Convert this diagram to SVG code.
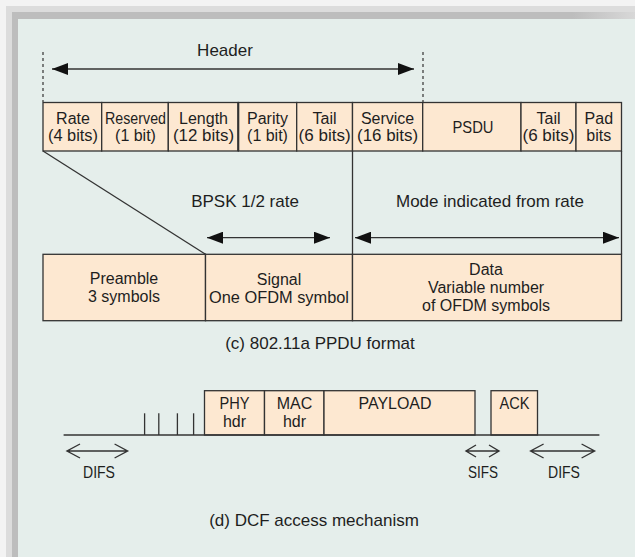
<svg xmlns="http://www.w3.org/2000/svg" width="635" height="557" viewBox="0 0 635 557">
<style>
.t{font-family:"Liberation Sans",Arial,sans-serif;font-size:17px;fill:#1e1e1e;text-anchor:middle}
.m{font-size:16px}
.cell{fill:#fde8d1;stroke:#333;stroke-width:1.3}
.ln{stroke:#333;stroke-width:1.3;fill:none}
.dash{stroke:#333;stroke-width:1.2;stroke-dasharray:3 3;fill:none}
.chev{stroke:#333;stroke-width:1.4;fill:none}
</style>
<defs>
<marker id="ah" viewBox="0 0 16 12" refX="16" refY="6" markerWidth="16" markerHeight="12" markerUnits="userSpaceOnUse" orient="auto-start-reverse">
<path d="M0,0 L16,6 L0,12 Z" fill="#111"/>
</marker>
<linearGradient id="fadeTop" x1="0" y1="0" x2="1" y2="0">
<stop offset="0" stop-color="#bdbdbd"/>
<stop offset="0.9" stop-color="#bdbdbd"/>
<stop offset="1" stop-color="#d8d8d8"/>
</linearGradient>
</defs>
<!-- frame -->
<rect x="0" y="0" width="635" height="557" fill="#f3f3f3"/>
<rect x="6" y="6" width="629" height="551" fill="#dcdcdc"/>
<rect x="12" y="12" width="623" height="545" fill="url(#fadeTop)"/>
<rect x="18" y="19" width="617" height="538" fill="#e5eeeb"/>

<!-- top row cells -->
<g id="rate"><rect class="cell" x="43" y="102.5" width="58.7" height="48.5"/><text class="t m" x="73" y="124">Rate</text><text class="t m" x="73" y="141" textLength="50" lengthAdjust="spacingAndGlyphs">(4 bits)</text></g>
<g id="reserved"><rect class="cell" x="101.7" y="102.5" width="66.6" height="48.5"/><text class="t m" x="135.5" y="124" textLength="61" lengthAdjust="spacingAndGlyphs">Reserved</text><text class="t m" x="135.5" y="141">(1 bit)</text></g>
<g id="length"><rect class="cell" x="168.3" y="102.5" width="70" height="48.5"/><text class="t m" x="203.5" y="124">Length</text><text class="t m" x="203.5" y="141" textLength="61" lengthAdjust="spacingAndGlyphs">(12 bits)</text></g>
<g id="parity"><rect class="cell" x="238.3" y="102.5" width="58.4" height="48.5"/><text class="t m" x="267.5" y="124">Parity</text><text class="t m" x="267.5" y="141">(1 bit)</text></g>
<g id="tail1"><rect class="cell" x="296.7" y="102.5" width="55.8" height="48.5"/><text class="t m" x="324.6" y="124">Tail</text><text class="t m" x="324.6" y="141" textLength="52" lengthAdjust="spacingAndGlyphs">(6 bits)</text></g>
<g id="service"><rect class="cell" x="352.5" y="102.5" width="70.2" height="48.5"/><text class="t m" x="387.6" y="124">Service</text><text class="t m" x="387.6" y="141" textLength="61" lengthAdjust="spacingAndGlyphs">(16 bits)</text></g>
<g id="psdu"><rect class="cell" x="422.7" y="102.5" width="98.3" height="48.5"/><text class="t" x="473" y="133" textLength="41" lengthAdjust="spacingAndGlyphs">PSDU</text></g>
<g id="tail2"><rect class="cell" x="521" y="102.5" width="55" height="48.5"/><text class="t m" x="548.5" y="124">Tail</text><text class="t m" x="548.5" y="141" textLength="52" lengthAdjust="spacingAndGlyphs">(6 bits)</text></g>
<g id="pad"><rect class="cell" x="576" y="102.5" width="45.5" height="48.5"/><text class="t m" x="598.8" y="124">Pad</text><text class="t m" x="598.8" y="141">bits</text></g>

<!-- bottom row -->
<g id="preamble"><rect class="cell" x="43" y="254.3" width="162.5" height="66.4"/><text class="t m" x="124" y="284">Preamble</text><text class="t m" x="124" y="302">3 symbols</text></g>
<g id="signal"><rect class="cell" x="205.5" y="254.3" width="147" height="66.4"/><text class="t m" x="279" y="285">Signal</text><text class="t m" x="279" y="303" textLength="140" lengthAdjust="spacingAndGlyphs">One OFDM symbol</text></g>
<g id="data"><rect class="cell" x="352.5" y="254.3" width="269" height="66.4"/><text class="t m" x="486" y="275">Data</text><text class="t m" x="486" y="293">Variable number</text><text class="t m" x="486" y="311">of OFDM symbols</text></g>

<!-- labels -->
<g id="labels-c">
<text class="t" x="225" y="56">Header</text>
<text class="t" x="245" y="207">BPSK 1/2 rate</text>
<text class="t" x="490" y="207">Mode indicated from rate</text>
<text class="t" x="320" y="349">(c) 802.11a PPDU format</text>
</g>

<!-- DCF boxes -->
<g id="phy"><rect class="cell" x="204.5" y="390.7" width="60" height="44.3"/><text class="t m" x="234.5" y="409" textLength="30" lengthAdjust="spacingAndGlyphs">PHY</text><text class="t m" x="234.5" y="427">hdr</text></g>
<g id="mac"><rect class="cell" x="264.5" y="390.7" width="59.5" height="44.3"/><text class="t m" x="294.5" y="409">MAC</text><text class="t m" x="294.5" y="427">hdr</text></g>
<g id="payload"><rect class="cell" x="324" y="390.7" width="151" height="44.3"/><text class="t" x="395" y="409" textLength="73" lengthAdjust="spacingAndGlyphs">PAYLOAD</text></g>
<g id="ack"><rect class="cell" x="491" y="390.7" width="46.5" height="44.3"/><text class="t" x="514.5" y="409" textLength="30" lengthAdjust="spacingAndGlyphs">ACK</text></g>
<g id="labels-d">
<text class="t" x="99" y="478" textLength="32" lengthAdjust="spacingAndGlyphs">DIFS</text>
<text class="t" x="483" y="478" textLength="30" lengthAdjust="spacingAndGlyphs">SIFS</text>
<text class="t" x="564" y="478" textLength="32" lengthAdjust="spacingAndGlyphs">DIFS</text>
<text class="t" x="314" y="526">(d) DCF access mechanism</text>
</g>

<!-- connectors -->
<g id="connectors">
<line class="dash" x1="43" y1="52" x2="43" y2="102"/>
<line class="dash" x1="423" y1="52" x2="423" y2="102"/>
<line class="ln" x1="52" y1="69" x2="414" y2="69" marker-start="url(#ah)" marker-end="url(#ah)"/>
<line x1="238.3" y1="102.5" x2="238.3" y2="151" stroke="#333" stroke-width="2"/>
<line class="ln" x1="43" y1="151" x2="205.5" y2="254.3"/>
<line class="ln" x1="352.5" y1="151" x2="352.5" y2="254.3"/>
<line class="ln" x1="621.5" y1="151" x2="621.5" y2="254.3"/>
<line class="ln" stroke-width="1.5" x1="207" y1="237.7" x2="330" y2="237.7" marker-start="url(#ah)" marker-end="url(#ah)"/>
<line class="ln" stroke-width="1.5" x1="355" y1="237.7" x2="619" y2="237.7" marker-start="url(#ah)" marker-end="url(#ah)"/>
<!-- timeline -->
<line class="ln" x1="63.6" y1="435" x2="599.4" y2="435"/>
<line class="ln" x1="144.6" y1="413.3" x2="144.6" y2="435"/>
<line class="ln" x1="158.8" y1="413.3" x2="158.8" y2="435"/>
<line class="ln" x1="177.4" y1="413.3" x2="177.4" y2="435"/>
<line class="ln" x1="193.6" y1="413.3" x2="193.6" y2="435"/>
<!-- interval arrows -->
<path class="chev" d="M67,451 H127.6 M80,444 L67,451 L80,458 M114.6,444 L127.6,451 L114.6,458"/>
<path class="chev" d="M466,451 H499 M476,445 L466,451 L476,457 M489,445 L499,451 L489,457"/>
<path class="chev" d="M530.6,451 H594.6 M543.6,444 L530.6,451 L543.6,458 M581.6,444 L594.6,451 L581.6,458"/>
</g>
</svg>
